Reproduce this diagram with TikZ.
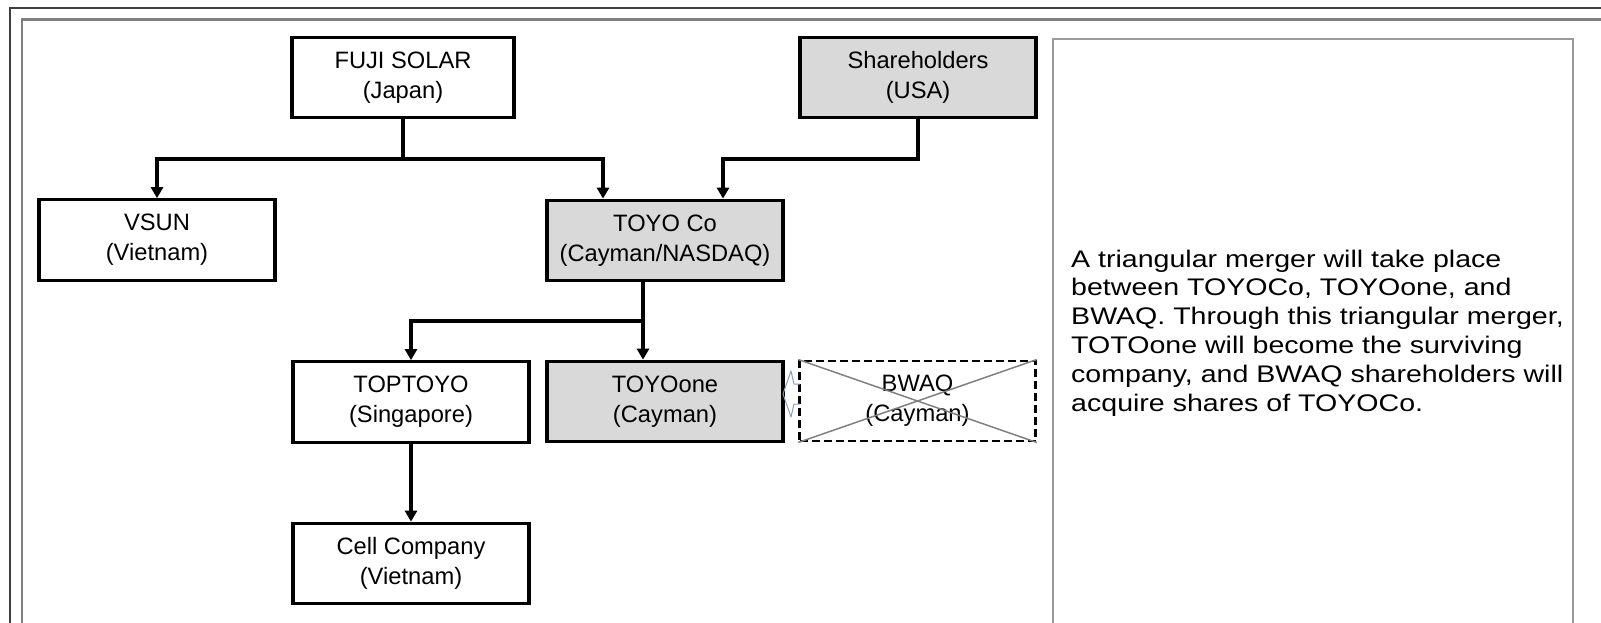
\documentclass[tikz,border=0pt]{standalone}
\usepackage{fontspec}
\setmainfont{Liberation Sans}
\newfontfamily\notefont[FakeStretch=1.19]{Liberation Sans}
\usetikzlibrary{arrows.meta}
\definecolor{boxgray}{HTML}{D9D9D9}
\definecolor{framegray}{HTML}{808080}
\definecolor{panelgray}{HTML}{9A9A9A}
\definecolor{hintblue}{HTML}{8C9CB8}
\begin{document}
\begin{tikzpicture}[x=1pt,y=-1pt,
    entity/.style={draw,line width=3.2pt,minimum width=236pt,minimum height=80.5pt,
      align=center,inner sep=0pt,font=\fontsize{23.7}{30}\selectfont},
    listed/.style={entity,fill=boxgray},
    merged/.style={entity,line width=2.4pt,dash pattern=on 8pt off 4pt},
    link/.style={draw,line width=3.2pt,-{Triangle[width=12pt,length=11pt]}}]
      \useasboundingbox (0,0) rectangle (1601,623);
      \clip (0,0) rectangle (1601,623);
      \draw[line width=1.8pt,black!75] (10,640) -- (10,8) -- (1620,8);
      \draw[line width=2.6pt,framegray] (22,640) -- (22,19.5) -- (1620,19.5);
      \draw
        (403,77.5) node[entity,minimum width=222pt] (fuji){FUJI SOLAR\\(Japan)}
        (918,77.5) node[listed] (share){Shareholders\\(USA)}
        (157,240) node[entity] (vsun){VSUN\\(Vietnam)}
        (665,240.5) node[listed] (toyo){TOYO Co\\(Cayman/NASDAQ)}
        (411,402) node[entity] (toptoyo){TOPTOYO\\(Singapore)}
        (665,401.5) node[listed] (toyoone){TOYOone\\(Cayman)}
        (917.5,401) node[merged] (bwaq){BWAQ\\(Cayman)}
        (411,563.5) node[entity] (cell){Cell Company\\(Vietnam)};
      \draw[gray,line width=1.5pt] (bwaq.north west) -- (bwaq.south east)
        (bwaq.south west) -- (bwaq.north east);
      \coordinate (fujibar) at (603,159);
      \coordinate (sharebar) at (723,159);
      \coordinate (toyobar) at (643,321);
      \draw[link] (fuji.south) |- (fujibar) -- (fujibar |- toyo.north);
      \draw[link] (fuji.south) |- (vsun.north |- fujibar) -- (vsun.north);
      \draw[link] (share.south) |- (sharebar) -- (sharebar |- toyo.north);
      \draw[link] (toyo.south -| toyobar) -- (toyoone.north -| toyobar);
      \draw[link] (toyo.south -| toyobar) |- (toptoyo.north |- toyobar) -- (toptoyo.north);
      \draw[link] (toptoyo) -- (cell);
      \draw[hintblue,line width=1pt,line join=round]
        (800,384) -- (794,384) -- (791,371) -- (783,394) -- (791,417) -- (794,404) -- (800,404);
      \node[draw=panelgray,line width=2pt,anchor=north west,inner sep=0pt,
        minimum width=520pt,minimum height=640pt] (panel) at (1052,38) {};
      \node[anchor=north west,align=left,inner sep=0pt,font=\notefont\fontsize{24}{28.8}\selectfont]
        (note) at (1071,249.5) {A triangular merger will take place\\between TOYOCo, TOYOone, and\\BWAQ. Through this triangular merger,\\TOTOone will become the surviving\\company, and BWAQ shareholders will\\acquire shares of TOYOCo.};
    \end{tikzpicture}
\end{document}
